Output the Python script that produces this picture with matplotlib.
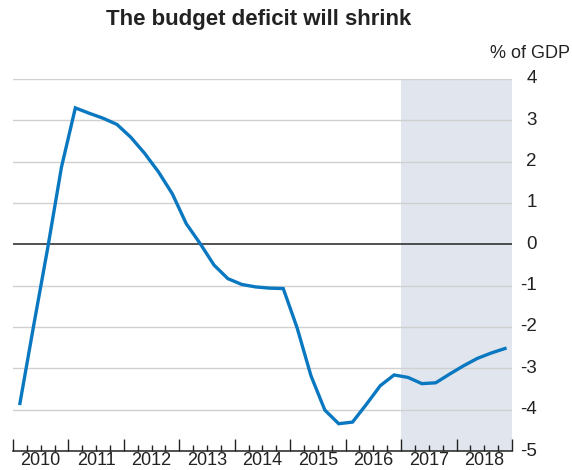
import numpy as np
import matplotlib
matplotlib.use('Agg')
import matplotlib.pyplot as plt

plt.rcParams['font.family'] = ['Liberation Sans', 'DejaVu Sans']

# quarterly budget balance, % of GDP, 2010Q1 - 2018Q4
years = list(range(2010, 2019))
deficit = [-3.85, -1.95, -0.1, 1.87,
           3.30, 3.17, 3.05, 2.90,
           2.59, 2.20, 1.75, 1.22,
           0.50, 0.02, -0.50, -0.83,
           -0.97, -1.03, -1.06, -1.07,
           -2.02, -3.18, -4.01, -4.34,
           -4.30, -3.87, -3.42, -3.16,
           -3.22, -3.37, -3.35, -3.14,
           -2.94, -2.76, -2.63, -2.52]
forecast_start = 2017
yticks = [4, 3, 2, 1, 0, -1, -2, -3, -4, -5]

x = np.array([y + (q + 0.5) / 4 for y in years for q in range(4)])

fig = plt.figure(figsize=(5.72, 4.70), dpi=100)
ax = fig.add_axes([0.0227, 0.0404, 0.8723, 0.7916])

ax.axvspan(forecast_start, years[-1] + 1, color='#e1e6ee', lw=0, zorder=0)
for v in yticks:
    if v != 0:
        ax.axhline(v, color='#d0d0d0', lw=1, zorder=1)
ax.axhline(0, color='#222222', lw=1.1, zorder=2)
ax.plot(x, deficit, color='#0a78c0', lw=2.4, zorder=3, solid_joinstyle='miter')

ax.set_xlim(years[0], years[-1] + 1)
ax.set_ylim(-5, 4)

for s in ['top', 'left', 'right']:
    ax.spines[s].set_visible(False)
ax.spines['bottom'].set_color('#222222')
ax.spines['bottom'].set_linewidth(1.1)

ax.set_xticks(range(years[0], years[-1] + 2))
ax.set_xticklabels([])
ax.set_xticks(np.arange(years[0], years[-1] + 1.01, 0.25), minor=True)
ax.tick_params(axis='x', which='major', direction='in', length=9, width=1, color='#222222')
ax.tick_params(axis='x', which='minor', direction='in', length=4, width=1, color='#222222')
for y in years:
    ax.text(y + 0.5, -0.037, str(y), transform=ax.get_xaxis_transform(),
            ha='center', va='baseline', fontsize=13, color='#222222')

# right-hand value labels, right aligned
ax.set_yticks(yticks)
ax.set_yticklabels([])
ax.tick_params(axis='y', length=0)
for v in yticks:
    ax.text(1.050, v, str(v), transform=ax.get_yaxis_transform(),
            ha='right', va='center', fontsize=13.5, color='#222222')

fig.text(0.996, 0.887, '% of GDP', ha='right', va='center', fontsize=13, color='#222222')
fig.text(0.452, 0.958, 'The budget deficit will shrink', ha='center', va='center',
         fontsize=16, fontweight='bold', color='#222222')

fig.savefig('out.png', dpi=100)
